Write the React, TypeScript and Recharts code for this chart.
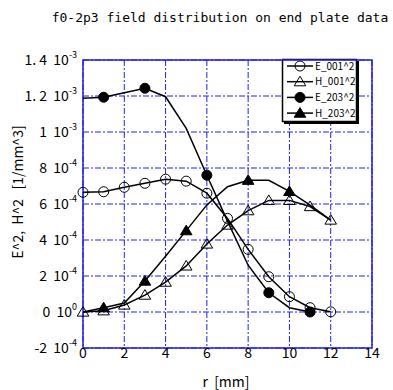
import React from 'react';
import { LineChart, Line, XAxis, YAxis, CartesianGrid, ReferenceArea, Customized } from 'recharts';

const title = 'f0-2p3 field distribution on end plate data';
const xLabel = 'r  [mm]';
const yLabel = 'E^2,  H^2   [1/mm^3]';

const rValues = [0, 1, 2, 3, 4, 5, 6, 7, 8, 9, 10, 11, 12];
const e001 = [6.65e-4, 6.68e-4, 6.93e-4, 7.15e-4, 7.38e-4, 7.27e-4, 6.6e-4, 5.2e-4, 3.48e-4, 1.96e-4, 0.85e-4, 0.24e-4, 0.01e-4];
const h001 = [0, 0.07e-4, 0.39e-4, 0.94e-4, 1.66e-4, 2.56e-4, 3.78e-4, 4.83e-4, 5.63e-4, 6.2e-4, 6.2e-4, 5.86e-4, 5.11e-4];
const e203 = [1.187e-3, 1.193e-3, 1.218e-3, 1.243e-3, 1.196e-3, 1.02e-3, 7.6e-4, 5.05e-4, 2.6e-4, 1.07e-4, 0.24e-4, 0, null];
const h203 = [0, 0.24e-4, 0.5e-4, 1.72e-4, 3.1e-4, 4.52e-4, 5.95e-4, 6.96e-4, 7.32e-4, 7.32e-4, 6.7e-4, 5.94e-4, 5.11e-4];
const e203Marks = [0, 1, 0, 1, 0, 0, 1, 0, 0, 1, 0, 1, 0];
const h203Marks = [0, 1, 0, 1, 0, 1, 0, 0, 1, 0, 1, 0, 0];
const allMarks = [1, 1, 1, 1, 1, 1, 1, 1, 1, 1, 1, 1, 1];

const seriesKeys = ['E_001', 'H_001', 'E_203', 'H_203'];
const seriesNames = ['E_001^2', 'H_001^2', 'E_203^2', 'H_203^2'];
const seriesMarkers = ['openCircle', 'openTriangle', 'filledCircle', 'filledTriangle'];
const seriesMarks = [allMarks, allMarks, e203Marks, h203Marks];

const xTicks = [0, 2, 4, 6, 8, 10, 12, 14];
const yTicks = [-2e-4, 0, 2e-4, 4e-4, 6e-4, 8e-4, 1e-3, 1.2e-3, 1.4e-3];
const yTickMain = ['-2  10', '0  10', '2  10', '4  10', '6  10', '8  10', '1  10', '1. 2  10', '1. 4  10'];
const yTickExp = ['-4', '0', '-4', '-4', '-4', '-4', '-3', '-3', '-3'];

const data = rValues.map((r, i) => ({
  r,
  E_001: e001[i],
  H_001: h001[i],
  E_203: e203[i],
  H_203: h203[i],
}));

const BLUE = '#2020e8';
const FONT = '"Noto Sans CJK JP", "Noto Sans", sans-serif';

function Marker({ kind, cx, cy }: { kind: string; cx: number; cy: number }) {
  if (kind === 'openCircle') return <circle cx={cx} cy={cy} r={5} fill="none" stroke="#000" strokeWidth={1} />;
  if (kind === 'filledCircle') return <circle cx={cx} cy={cy} r={5} fill="#000" stroke="#000" strokeWidth={1} />;
  const s = 5.5;
  const pts = `${cx},${cy - s} ${cx - s * 1.05},${cy + s * 0.75} ${cx + s * 1.05},${cy + s * 0.75}`;
  if (kind === 'openTriangle') return <polygon points={pts} fill="none" stroke="#000" strokeWidth={1} />;
  return <polygon points={pts} fill="#000" stroke="#000" strokeWidth={1} />;
}

const makeDot = (kind: string, marks: number[]) => (props: any) => {
  const { cx, cy, index } = props;
  if (cy == null || cx == null || !marks[index]) return <g key={`d-${kind}-${index}`} />;
  return (
    <g key={`d-${kind}-${index}`}>
      <Marker kind={kind} cx={cx} cy={cy} />
    </g>
  );
};

const YTick = (props: any) => {
  const { x, y, index } = props;
  return (
    <text x={x} y={y + 5} textAnchor="end" fontFamily={FONT} fontSize={14} fill="#000" style={{ whiteSpace: 'pre' }}>
      {yTickMain[index]}
      <tspan dy={-7} fontSize={9}>{yTickExp[index]}</tspan>
    </text>
  );
};

const XTick = (props: any) => {
  const { x, y, payload } = props;
  return (
    <text x={x} y={y + 10} textAnchor="middle" fontFamily={FONT} fontSize={14} fill="#000">
      {payload.value}
    </text>
  );
};

const LegendBox = () => (
  <g transform="translate(282,59)">
    <rect x={2} y={2} width={75} height={63} fill="#000" />
    <rect x={0.5} y={0.5} width={74} height={62} fill="#fff" stroke="#000" strokeWidth={1.5} />
    {seriesNames.map((n, i) => {
      const cy = 7 + i * 15.7;
      return (
        <g key={n}>
          <line x1={5} x2={31} y1={cy} y2={cy} stroke="#000" strokeWidth={1.5} />
          <Marker kind={seriesMarkers[i]} cx={18} cy={cy} />
          <text x={33} y={cy + 3.5} fontFamily={FONT} fontSize={10} fill="#000">{n}</text>
        </g>
      );
    })}
  </g>
);

const Titles = () => (
  <g>
    <text x={220} y={22} textAnchor="middle" fontFamily='"DejaVu Sans Mono", monospace' fontSize={13} fill="#000">{title}</text>
    <text x={226} y={387} textAnchor="middle" fontFamily={FONT} fontSize={14} fill="#000" style={{ whiteSpace: 'pre' }}>{xLabel}</text>
    <text x={0} y={0} transform="translate(23,192) rotate(-90)" textAnchor="middle" fontFamily={FONT} fontSize={14} fill="#000" style={{ whiteSpace: 'pre' }}>{yLabel}</text>
  </g>
);

export default function App() {
  return (
    <div style={{ position: 'absolute', left: 0, top: 0, background: '#fff' }}>
      <LineChart width={393} height={390} data={data} margin={{ top: 60, right: 21, bottom: 0, left: 0 }}>
        <CartesianGrid stroke={BLUE} strokeDasharray="6 2 2 2" strokeWidth={1} />
        <XAxis
          dataKey="r"
          type="number"
          domain={[0, 14]}
          ticks={xTicks}
          height={42}
          axisLine={false}
          tickLine={false}
          tickSize={0}
          tickMargin={0}
          tick={<XTick />}
          interval={0}
        />
        <YAxis
          type="number"
          domain={[-2e-4, 1.4e-3]}
          ticks={yTicks}
          width={83}
          axisLine={false}
          tickLine={false}
          tickSize={0}
          tickMargin={6}
          tick={<YTick />}
          interval={0}
        />
        <ReferenceArea x1={0} x2={14} y1={-2e-4} y2={1.4e-3} fill="none" stroke={BLUE} strokeWidth={1.5} ifOverflow="visible" />
        {seriesKeys.map((k, i) => (
          <Line
            key={k}
            dataKey={k}
            name={seriesNames[i]}
            stroke="#000"
            strokeWidth={1.5}
            isAnimationActive={false}
            dot={makeDot(seriesMarkers[i], seriesMarks[i])}
            activeDot={false}
          />
        ))}
        <Customized component={LegendBox} />
        <Customized component={Titles} />
      </LineChart>
    </div>
  );
}
